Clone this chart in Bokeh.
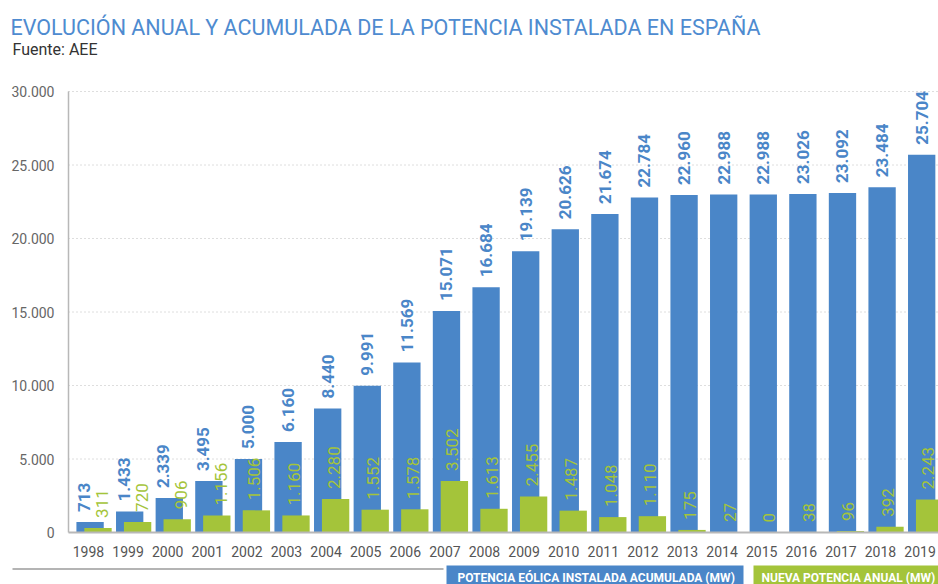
import math
from bokeh.plotting import figure
from bokeh.models import ColumnDataSource, FixedTicker, Range1d
from bokeh.embed import file_html
from bokeh.resources import INLINE
from bokeh.core.properties import value

# ---- data ----
years = ["1998", "1999", "2000", "2001", "2002", "2003", "2004", "2005", "2006", "2007", "2008",
         "2009", "2010", "2011", "2012", "2013", "2014", "2015", "2016", "2017", "2018", "2019"]
acumulada = [713, 1433, 2339, 3495, 5000, 6160, 8440, 9991, 11569, 15071, 16684,
             19139, 20626, 21674, 22784, 22960, 22988, 22988, 23026, 23092, 23484, 25704]
anual = [311, 720, 906, 1156, 1506, 1160, 2280, 1552, 1578, 3502, 1613,
         2455, 1487, 1048, 1110, 175, 27, 0, 38, 96, 392, 2243]
y_ticks = [0, 5000, 10000, 15000, 20000, 25000, 30000]
y_tick_labels = ["0", "5.000", "10.000", "15.000", "20.000", "25.000", "30.000"]

title_text = "EVOLUCIÓN ANUAL Y ACUMULADA DE LA POTENCIA INSTALADA EN ESPAÑA"
subtitle_text = "Fuente: AEE"
legend_blue = "POTENCIA EÓLICA INSTALADA ACUMULADA (MW)"
legend_green = "NUEVA POTENCIA ANUAL (MW)"

# ---- style / layout ----
BLUE = "#4a86c8"
GREEN = "#a4c43a"
TITLE_BLUE = "#4e8bd0"
FONT = "Roboto"
W, H = 938, 584
BASE_PX = 532          # pixel row of value 0
PX_PER_UNIT = 0.0147   # pixels per MW
CAT_PX = 39.6          # pixels per year
CAT0_PX = 88           # pixel column of first year
AXIS_LEFT_PX = 68

x_start = -CAT0_PX / CAT_PX
x_end = (W - CAT0_PX) / CAT_PX
y_start = -(H - BASE_PX) / PX_PER_UNIT
y_end = BASE_PX / PX_PER_UNIT
x_axis_left = (AXIS_LEFT_PX - CAT0_PX) / CAT_PX


def fmt(v):
    return f"{v:,}".replace(",", ".")


idx = list(range(len(years)))
xb = [i + 0.04 for i in idx]
xg = [i + 0.24 for i in idx]

LBL_GAP = 10
CHAR_PX = 9.0
xo_b, xo_g = [], []
for a, n in zip(acumulada, anual):
    green_top = n * PX_PER_UNIT + LBL_GAP + len(fmt(n)) * CHAR_PX
    blue_bottom = a * PX_PER_UNIT + LBL_GAP
    if green_top > blue_bottom:
        xo_b.append(-6)
        xo_g.append(4)
    else:
        xo_b.append(0)
        xo_g.append(-2)

src = ColumnDataSource(dict(
    xb=xb, xg=xg, acc=acumulada, new=anual,
    acc_lbl=[fmt(v) for v in acumulada], new_lbl=[fmt(v) for v in anual],
    xo_b=xo_b, xo_g=xo_g,
))

p = figure(width=W, height=H, output_backend="svg", toolbar_location=None, title=None,
           x_range=Range1d(x_start, x_end), y_range=Range1d(y_start, y_end),
           min_border_left=0, min_border_right=0, min_border_top=0, min_border_bottom=0)
p.outline_line_color = None
p.extra_x_ranges = {"px": Range1d(0, W)}
p.extra_y_ranges = {"px": Range1d(H, 0)}

# dotted grid lines, from the y axis to the right edge
p.segment(x0=[x_axis_left] * (len(y_ticks) - 1), x1=[x_end] * (len(y_ticks) - 1),
          y0=y_ticks[1:], y1=y_ticks[1:], line_color="#bdbdbd", line_dash="1 3", line_width=1)

p.vbar(x="xb", top="acc", width=0.69, bottom=0, source=src, fill_color=BLUE, line_color=None)
p.vbar(x="xg", top="new", width=0.69, bottom=0, source=src, fill_color=GREEN, line_color=None)

p.text(x="xb", y="acc", text="acc_lbl", source=src, angle=math.pi / 2,
       text_align="left", text_baseline="middle", y_offset=-LBL_GAP, x_offset="xo_b",
       text_font=value(FONT), text_font_style="bold", text_font_size="17px", text_color=BLUE)
p.text(x="xg", y="new", text="new_lbl", source=src, angle=math.pi / 2,
       text_align="left", text_baseline="middle", y_offset=-LBL_GAP, x_offset="xo_g",
       text_font=value(FONT), text_font_size="17px", text_color=GREEN)

# axes drawn inside the full-canvas frame
xa = p.xaxis[0]
xa.fixed_location = 0
xa.bounds = (x_axis_left, x_end)
xa.ticker = FixedTicker(ticks=idx)
xa.major_label_overrides = {i: y for i, y in zip(idx, years)}
xa.axis_line_color = "#b8b8b8"
xa.axis_line_width = 2
xa.major_tick_line_color = None
xa.minor_tick_line_color = None
xa.major_tick_out = 0
xa.major_tick_in = 0
xa.major_label_standoff = 13
xa.major_label_text_font = FONT
xa.major_label_text_font_size = "14px"
xa.major_label_text_color = "#555555"

ya = p.yaxis[0]
ya.fixed_location = x_axis_left
ya.bounds = (0, 30000)
ya.ticker = FixedTicker(ticks=y_ticks)
ya.major_label_overrides = {t: l for t, l in zip(y_ticks, y_tick_labels)}
ya.axis_line_color = "#b8b8b8"
ya.axis_line_width = 1.5
ya.major_tick_line_color = None
ya.minor_tick_line_color = None
ya.major_tick_out = 0
ya.major_tick_in = 0
ya.major_label_standoff = 14
ya.major_label_text_font = FONT
ya.major_label_text_font_size = "14px"
ya.major_label_text_color = "#666666"

p.grid.visible = False

# ---- header (pixel coordinates) ----
p.text(x=[10], y=[27], text=[title_text], x_range_name="px", y_range_name="px",
       text_font=value(FONT), text_font_size="21.5px", text_color=TITLE_BLUE,
       text_baseline="alphabetic", text_align="left")
p.text(x=[12], y=[49], text=[subtitle_text], x_range_name="px", y_range_name="px",
       text_font=value(FONT), text_font_size="16px", text_color="#333333",
       text_baseline="alphabetic", text_align="left")

# ---- legend strip (pixel coordinates) ----
p.quad(left=[12], right=[443], top=[567.5], bottom=[569.5], x_range_name="px", y_range_name="px",
       fill_color="#b4b4b4", line_color=None, level="overlay")
p.quad(left=[446, 753], right=[743, 945], top=[565, 565], bottom=[590, 590],
       x_range_name="px", y_range_name="px", fill_color=[BLUE, GREEN], line_color=None)
p.text(x=[457, 761], y=[577, 577], text=[legend_blue, legend_green],
       x_range_name="px", y_range_name="px", text_font=value(FONT),
       text_font_size="12px", text_font_style="bold", text_color="white",
       text_baseline="alphabetic", text_align="left")

open("out.html", "w").write(file_html(p, INLINE))
